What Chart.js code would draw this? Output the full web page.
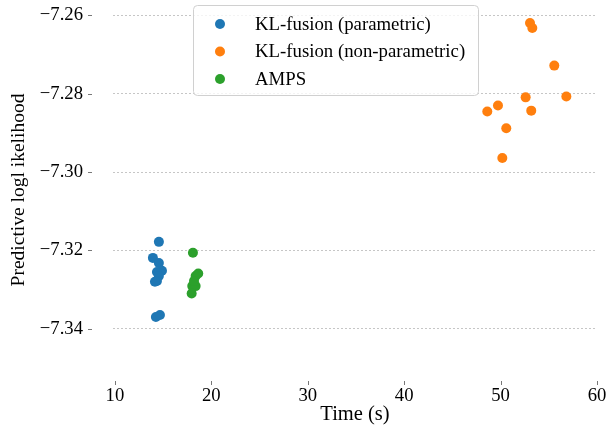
<!DOCTYPE html>
<html>
<head>
<meta charset="utf-8">
<script src="https://cdn.jsdelivr.net/npm/chart.js@4"></script>
<style>
html, body { margin: 0; padding: 0; background: #fff; }
#wrap { width: 609px; height: 425px; }
</style>
</head>
<body>
<div id="wrap"><canvas id="c"></canvas></div>
<script>
// tick labels
const xTicks = [10, 20, 30, 40, 50, 60];
const yTicks = [-7.34, -7.32, -7.30, -7.28, -7.26];

// KL-fusion (parametric)
const paramTime = [14.56, 13.94, 14.56, 14.88, 14.36, 14.56, 14.36, 14.15, 14.25, 14.67];
const paramLL = [-7.3178, -7.3219, -7.3232, -7.3252, -7.3255, -7.3265, -7.3278, -7.3280, -7.3370, -7.3365];

// KL-fusion (non-parametric)
const nonParamTime = [53.05, 53.29, 55.57, 52.60, 56.82, 49.73, 48.62, 53.18, 50.59, 50.18];
const nonParamLL = [-7.2619, -7.2632, -7.2728, -7.2809, -7.2807, -7.2830, -7.2845, -7.2843, -7.2888, -7.2964];

// AMPS
const ampsTime = [18.09, 18.37, 18.64, 18.02, 18.37, 17.96, 18.20];
const ampsLL = [-7.3206, -7.3265, -7.3259, -7.3291, -7.3291, -7.3310, -7.3278];

const seriesNames = ["KL-fusion (parametric)", "KL-fusion (non-parametric)", "AMPS"];
const seriesColors = ["#1f77b4", "#ff7f0e", "#2ca02c"];

function toPoints(xs, ys) {
   return xs.map((x, i) => ({ x: x, y: ys[i] }));
}

const serif = "'Liberation Serif', 'DejaVu Serif', serif";
Chart.defaults.font.family = serif;
Chart.defaults.color = "#000";

// small tick marks sitting away from the plot (offset spines)
const tickMarks = {
   id: "tickMarks",
   afterDraw(chart) {
      const ctx = chart.ctx;
      const area = chart.chartArea;
      const xs = chart.scales.x;
      const ys = chart.scales.y;
      ctx.save();
      ctx.strokeStyle = "#555";
      ctx.lineWidth = 0.8;
      ctx.beginPath();
      yTicks.forEach(v => {
         const py = Math.round(ys.getPixelForValue(v)) + 0.5;
         ctx.moveTo(88, py);
         ctx.lineTo(92, py);
      });
      xTicks.forEach(v => {
         const px = Math.round(xs.getPixelForValue(v)) + 0.5;
         ctx.moveTo(px, area.bottom + 6);
         ctx.lineTo(px, area.bottom + 10);
      });
      ctx.stroke();
      ctx.restore();
   }
};

// legend box drawn inside the plot
const innerLegend = {
   id: "innerLegend",
   afterDraw(chart) {
      const ctx = chart.ctx;
      const bx = 193, by = 5, bw = 285, bh = 90;
      ctx.save();
      ctx.beginPath();
      ctx.roundRect(bx + 0.5, by + 0.5, bw, bh, 4);
      ctx.fillStyle = "rgba(255,255,255,0.8)";
      ctx.fill();
      ctx.strokeStyle = "#d0d0d0";
      ctx.lineWidth = 1;
      ctx.stroke();
      ctx.font = "18.8px " + serif;
      ctx.textBaseline = "middle";
      chart.data.datasets.forEach((ds, i) => {
         const cy = 24 + i * 27.5;
         ctx.beginPath();
         ctx.arc(220, cy, 5, 0, Math.PI * 2);
         ctx.fillStyle = ds.backgroundColor;
         ctx.fill();
         ctx.fillStyle = "#000";
         ctx.fillText(ds.label, 255, cy + 1);
      });
      ctx.restore();
   }
};

new Chart(document.getElementById("c"), {
   type: "scatter",
   data: {
      datasets: [
         { label: seriesNames[0], data: toPoints(paramTime, paramLL), backgroundColor: seriesColors[0] },
         { label: seriesNames[1], data: toPoints(nonParamTime, nonParamLL), backgroundColor: seriesColors[1] },
         { label: seriesNames[2], data: toPoints(ampsTime, ampsLL), backgroundColor: seriesColors[2] },
      ],
   },
   options: {
      responsive: true,
      maintainAspectRatio: false,
      animation: false,
      events: [],
      layout: { padding: { left: 0, right: 12, top: 0, bottom: 0 } },
      elements: { point: { radius: 5, borderWidth: 0 } },
      clip: false,
      scales: {
         x: {
            type: "linear",
            min: 9.8,
            max: 60,
            afterBuildTicks: s => { s.ticks = xTicks.map(v => ({ value: v })); },
            afterFit: s => { s.height = 50; s.paddingLeft = 0; s.paddingRight = 0; },
            grid: { display: false, drawTicks: false },
            border: { display: false },
            ticks: { padding: 10, font: { size: 18.7 }, color: "#000" },
            title: { display: true, text: "Time (s)", font: { size: 20.5, lineHeight: 1 }, padding: { top: 0, bottom: 0 }, color: "#000" },
         },
         y: {
            type: "linear",
            min: -7.3518,
            max: -7.25732,
            afterBuildTicks: s => { s.ticks = yTicks.map(v => ({ value: v })); },
            afterFit: s => { s.width = 113; s.paddingTop = 0; s.paddingBottom = 0; },
            grid: { color: "#b8b8b8", lineWidth: 0.8, drawTicks: false },
            border: { display: false, dash: [2, 2] },
            ticks: {
               padding: 30,
               font: { size: 18.7 },
               color: "#000",
               callback: v => (v < 0 ? "\u2212" : "") + Math.abs(v).toFixed(2),
            },
            title: { display: true, text: "Predictive logl ikelihood", font: { size: 19.5 }, padding: { top: 7, bottom: 0 }, color: "#000" },
         },
      },
      plugins: {
         legend: { display: false },
         tooltip: { enabled: false },
      },
   },
   plugins: [tickMarks, innerLegend],
});
</script>
</body>
</html>
